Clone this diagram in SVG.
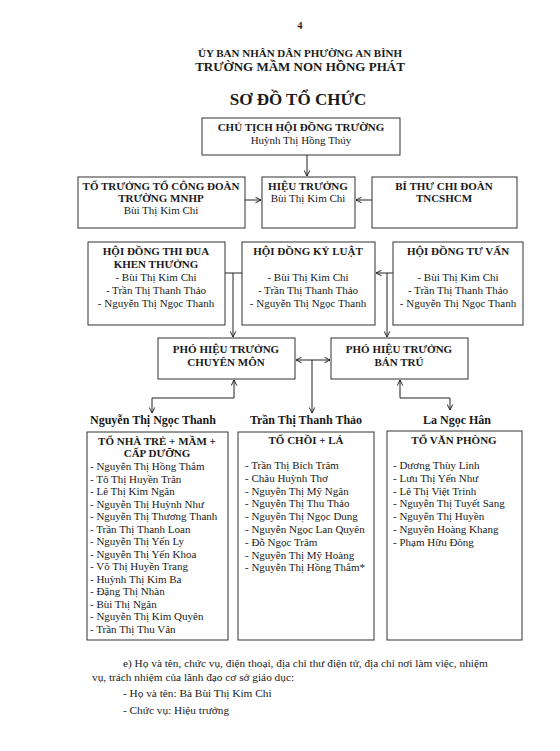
<svg xmlns="http://www.w3.org/2000/svg" width="560" height="751" viewBox="0 0 560 751">
<defs>
<marker id="arr" viewBox="0 0 10 10" refX="9" refY="5" markerWidth="7" markerHeight="7" orient="auto-start-reverse" markerUnits="userSpaceOnUse">
<polyline points="1,1 9,5 1,9" fill="none" stroke="#222" stroke-width="1.4"/>
</marker>
</defs>
<style>
text{font-family:"Liberation Serif","Times New Roman",serif;fill:#1a1a1a}
.t{font-size:11px;font-weight:bold;text-anchor:middle}
.n{font-size:11px;text-anchor:middle}
.l{font-size:11px}
.f{font-size:11.3px}
.lbl{font-size:12px;font-weight:bold;text-anchor:middle}
rect{fill:#fff;stroke:#333;stroke-width:1}
.c line,.c polyline{stroke:#222;stroke-width:1;fill:none}
</style>
<rect x="0" y="0" width="560" height="751" style="fill:#fff;stroke:none"/>
<g id="header">
<text x="300" y="29" class="n" style="font-weight:bold;font-size:10px">4</text>
<text x="300" y="57" class="t" style="font-size:11px">ỦY BAN NHÂN DÂN PHƯỜNG AN BÌNH</text>
<text x="300" y="71" class="t" style="font-size:13px">TRƯỜNG MẦM NON HỒNG PHÁT</text>
<text x="298" y="105" class="t" style="font-size:17px">SƠ ĐỒ TỔ CHỨC</text>
</g>
<g class="c" id="connectors">
<line x1="307" y1="155" x2="307" y2="176" marker-end="url(#arr)"/>
<line x1="245" y1="200" x2="261" y2="200" marker-end="url(#arr)"/>
<line x1="372" y1="200" x2="356" y2="200" marker-end="url(#arr)"/>
<polyline points="225,273 242,273"/>
<line x1="233" y1="273" x2="233" y2="337" marker-end="url(#arr)"/>
<line x1="393" y1="273" x2="376" y2="273" marker-end="url(#arr)"/>
<line x1="387" y1="273" x2="387" y2="337" marker-end="url(#arr)"/>
<line x1="296" y1="360" x2="330" y2="360" marker-start="url(#arr)" marker-end="url(#arr)"/>
<line x1="312" y1="360" x2="312" y2="413" marker-end="url(#arr)"/>
<line x1="234" y1="398" x2="234" y2="380" marker-end="url(#arr)"/>
<polyline points="152,398 234,398"/>
<line x1="152" y1="398" x2="152" y2="413" marker-end="url(#arr)"/>
<line x1="400" y1="398" x2="400" y2="380" marker-end="url(#arr)"/>
<polyline points="400,398 450,398"/>
<line x1="450" y1="398" x2="450" y2="410" marker-end="url(#arr)"/>
</g>
<g id="chu-tich">
<rect x="202" y="118" width="198" height="37"/>
<text x="301" y="131" class="t">CHỦ TỊCH HỘI ĐỒNG TRƯỜNG</text>
<text x="301" y="144" class="n">Huỳnh Thị Hồng Thúy</text>
</g>
<g id="to-truong-cong-doan">
<rect x="78" y="177" width="167" height="51"/>
<text x="161" y="190" class="t">TỔ TRƯỞNG TỔ CÔNG ĐOÀN</text>
<text x="161" y="202" class="t">TRƯỜNG MNHP</text>
<text x="161" y="214" class="n">Bùi Thị Kim Chi</text>
</g>
<g id="hieu-truong">
<rect x="262" y="177" width="93" height="51"/>
<text x="308" y="190" class="t">HIỆU TRƯỞNG</text>
<text x="308" y="202" class="n">Bùi Thị Kim Chi</text>
</g>
<g id="bi-thu">
<rect x="372" y="177" width="145" height="51"/>
<text x="444" y="190" class="t">BÍ THƯ CHI ĐOÀN</text>
<text x="444" y="202" class="t">TNCSHCM</text>
</g>
<g id="hd-thi-dua">
<rect x="88" y="242" width="137" height="83"/>
<text x="156" y="255" class="t">HỘI ĐỒNG THI ĐUA</text>
<text x="156" y="268" class="t">KHEN THƯỞNG</text>
<text x="156" y="281" class="n">- Bùi Thị Kim Chi</text>
<text x="156" y="294" class="n">- Trần Thị Thanh Thảo</text>
<text x="156" y="307" class="n">- Nguyễn Thị Ngọc Thanh</text>
</g>
<g id="hd-ky-luat">
<rect x="242" y="242" width="133" height="83"/>
<text x="308" y="255" class="t">HỘI ĐỒNG KỶ LUẬT</text>
<text x="308" y="281" class="n">- Bùi Thị Kim Chi</text>
<text x="308" y="294" class="n">- Trần Thị Thanh Thảo</text>
<text x="308" y="307" class="n">- Nguyễn Thị Ngọc Thanh</text>
</g>
<g id="hd-tu-van">
<rect x="393" y="242" width="130" height="83"/>
<text x="458" y="255" class="t">HỘI ĐỒNG TƯ VẤN</text>
<text x="458" y="281" class="n">- Bùi Thị Kim Chi</text>
<text x="458" y="294" class="n">- Trần Thị Thanh Thảo</text>
<text x="458" y="307" class="n">- Nguyễn Thị Ngọc Thanh</text>
</g>
<g id="pht-chuyen-mon">
<rect x="158" y="338" width="137" height="41"/>
<text x="226" y="353" class="t">PHÓ HIỆU TRƯỞNG</text>
<text x="226" y="366" class="t">CHUYÊN MÔN</text>
</g>
<g id="pht-ban-tru">
<rect x="331" y="338" width="137" height="41"/>
<text x="399" y="353" class="t">PHÓ HIỆU TRƯỞNG</text>
<text x="399" y="366" class="t">BÁN TRÚ</text>
</g>
<g id="to-nha-tre">
<text x="153" y="424" class="lbl">Nguyễn Thị Ngọc Thanh</text>
<rect x="87" y="432" width="141" height="208"/>
<text x="157" y="445" class="t">TỔ NHÀ TRẺ + MẦM +</text>
<text x="157" y="457" class="t">CẤP DƯỠNG</text>
<text x="90" y="470" class="l">- Nguyễn Thị Hồng Thắm</text>
<text x="90" y="482.5" class="l">- Tô Thị Huyền Trân</text>
<text x="90" y="495" class="l">- Lê Thị Kim Ngân</text>
<text x="90" y="507.5" class="l">- Nguyễn Thị Huỳnh Như</text>
<text x="90" y="520" class="l">- Nguyễn Thị Thương Thanh</text>
<text x="90" y="532.5" class="l">- Trần Thị Thanh Loan</text>
<text x="90" y="545" class="l">- Nguyễn Thị Yến Ly</text>
<text x="90" y="557.5" class="l">- Nguyễn Thị Yến Khoa</text>
<text x="90" y="570" class="l">- Võ Thị Huyền Trang</text>
<text x="90" y="582.5" class="l">- Huỳnh Thị Kim Ba</text>
<text x="90" y="595" class="l">- Đặng Thị Nhàn</text>
<text x="90" y="607.5" class="l">- Bùi Thị Ngân</text>
<text x="90" y="620" class="l">- Nguyễn Thị Kim Quyên</text>
<text x="90" y="632.5" class="l">- Trần Thị Thu Vân</text>
</g>
<g id="to-choi-la">
<text x="306" y="424" class="lbl">Trần Thị Thanh Thảo</text>
<rect x="238" y="432" width="136" height="208"/>
<text x="306" y="444" class="t">TỔ CHỒI + LÁ</text>
<text x="245" y="469" class="l">- Trần Thị Bích Trâm</text>
<text x="245" y="481.8" class="l">- Châu Huỳnh Thơ</text>
<text x="245" y="494.6" class="l">- Nguyễn Thị Mỹ Ngân</text>
<text x="245" y="507.4" class="l">- Nguyễn Thị Thu Thảo</text>
<text x="245" y="520.2" class="l">- Nguyễn Thị Ngọc Dung</text>
<text x="245" y="533" class="l">- Nguyễn Ngọc Lan Quyên</text>
<text x="245" y="545.8" class="l">- Đỗ Ngọc Trâm</text>
<text x="245" y="558.6" class="l">- Nguyễn Thị Mỹ Hoàng</text>
<text x="245" y="571.4" class="l">- Nguyễn Thị Hồng Thắm*</text>
</g>
<g id="to-van-phong">
<text x="457" y="424" class="lbl">La Ngọc Hân</text>
<rect x="387" y="431" width="135" height="209"/>
<text x="454" y="444" class="t">TỔ VĂN PHÒNG</text>
<text x="393" y="469" class="l">- Dương Thùy Linh</text>
<text x="393" y="481.8" class="l">- Lưu Thị Yến Như</text>
<text x="393" y="494.6" class="l">- Lê Thị Việt Trinh</text>
<text x="393" y="507.4" class="l">- Nguyễn Thị Tuyết Sang</text>
<text x="393" y="520.2" class="l">- Nguyễn Thị Huyền</text>
<text x="393" y="533" class="l">- Nguyễn Hoàng Khang</text>
<text x="393" y="545.8" class="l">- Phạm Hữu Đông</text>
</g>
<g id="footer">
<text x="123" y="667" class="f">e) Họ và tên, chức vụ, điện thoại, địa chỉ thư điện tử, địa chỉ nơi làm việc, nhiệm</text>
<text x="92" y="681" class="f">vụ, trách nhiệm của lãnh đạo cơ sở giáo dục:</text>
<text x="123" y="697" class="f">- Họ và tên: Bà Bùi Thị Kim Chi</text>
<text x="123" y="714" class="f">- Chức vụ: Hiệu trưởng</text>
</g>
</svg>
